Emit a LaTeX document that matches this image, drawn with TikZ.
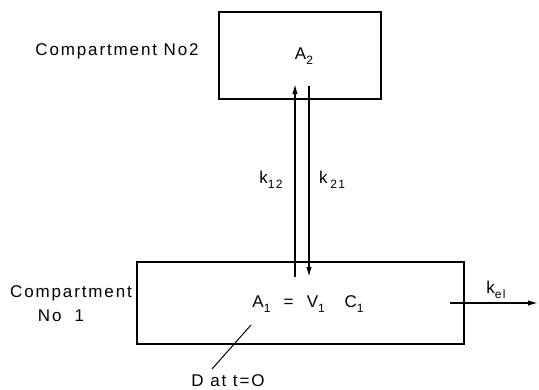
\documentclass[tikz,border=0pt]{standalone}
\usepackage{fontspec}
\setmainfont[LetterSpace=11]{Liberation Sans}
\usetikzlibrary{arrows.meta}
\newcommand{\sbs}[1]{\raisebox{-0.5ex}{\fontsize{12}{12}\selectfont #1}}
\begin{document}
\begin{tikzpicture}[x=1pt,y=-1pt,
  box/.style={draw, line width=1.5pt, inner sep=0pt},
  lbl/.style={inner sep=0pt, font=\fontsize{17}{19}\selectfont},
  arr/.style={line width=1.5pt, -{Latex[length=10pt,width=5.5pt]}},
  thin/.style={line width=1pt}]
\useasboundingbox (0,0) rectangle (539,389);
% boxes
\node[box, minimum width=162pt, minimum height=87pt] (c2) at (300,55.5) {};
\node[box, minimum width=327pt, minimum height=82pt] (c1) at (300.5,303) {};
% labels
\node[lbl] (t2) at (117,51) {Compartment No2};
\node[lbl] (a2) at (304,56) {A\sbs{2}};
\node[lbl] (t1a) at (71,293) {Compartment};
\node[lbl] (t1b) at (61,316) {No\ \ 1};
\node[lbl] (eq) at (308,304) {A\sbs{1}\ \ =\ \ V\sbs{1}\ \ \ C\sbs{1}};
\node[lbl] (k12) at (271,180) {k\sbs{12}};
\node[lbl] (k21) at (332,180) {k\,\sbs{21}};
\node[lbl] (kel) at (496,290) {k\sbs{el}};
\node[lbl] (dose) at (228,381) {D at t=O};
% connector endpoints
\coordinate (up0) at (295,277);
\coordinate (up1) at (295,84);
\coordinate (dn0) at (309,86);
\coordinate (dn1) at (309,277);
\coordinate (el0) at (450,303);
\coordinate (el1) at (538,303);
\coordinate (d0) at (251,325);
\coordinate (d1) at (212,369);
\draw[arr] (up0) -- (up1);
\draw[arr] (dn0) -- (dn1);
\draw[arr] (el0) -- (el1);
\draw[thin] (d0) -- (d1);
\end{tikzpicture}
\end{document}
